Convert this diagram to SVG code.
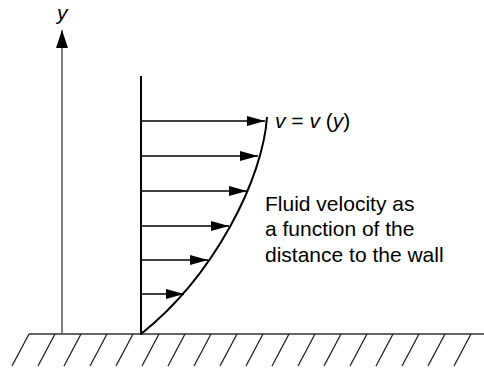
<svg xmlns="http://www.w3.org/2000/svg" width="484" height="368" viewBox="0 0 484 368">
<defs>
<marker id="ah" markerUnits="userSpaceOnUse" markerWidth="18" markerHeight="10" refX="18" refY="5" orient="auto">
<path d="M0,0 L18,5 L0,10 z" fill="#000"/>
</marker>
<marker id="ay" markerUnits="userSpaceOnUse" markerWidth="18" markerHeight="12" refX="18" refY="6" orient="auto">
<path d="M0,0 L18,6 L0,12 z" fill="#000"/>
</marker>
</defs>
<style>
.t{font-family:"Liberation Sans",Arial,sans-serif;font-size:21px;fill:#000}
.i{font-style:italic}
.vel{stroke:#000;stroke-width:1.5;fill:none}
.hatch{stroke:#222;stroke-width:1.3}
</style>
<rect width="484" height="368" fill="#fff"/>
<g id="ground">
<line x1="29" y1="334" x2="484" y2="334" stroke="#333" stroke-width="1.5"/>
<path class="hatch" d="M29,334 l-17,32 M55,334 l-17,32 M81,334 l-17,32 M107,334 l-17,32 M133,334 l-17,32 M159,334 l-17,32 M185,334 l-17,32 M211,334 l-17,32 M237,334 l-17,32 M263,334 l-17,32 M289,334 l-17,32 M315,334 l-17,32 M341,334 l-17,32 M367,334 l-17,32 M393,334 l-17,32 M419,334 l-17,32 M445,334 l-17,32 M471,334 l-17,32"/>
</g>
<g id="y-axis">
<line x1="62" y1="334" x2="62" y2="30" stroke="#555" stroke-width="1.5" marker-end="url(#ay)"/>
<text class="t i" x="57" y="20">y</text>
</g>
<g id="wall">
<line x1="141" y1="76" x2="141" y2="335" stroke="#000" stroke-width="2"/>
</g>
<g id="profile">
<path d="M141,334 C215,275 263,178 267,117" stroke="#000" stroke-width="2" fill="none"/>
</g>
<g id="connectors">
<line class="vel" x1="141" y1="121" x2="265" y2="121" marker-end="url(#ah)"/>
<line class="vel" x1="141" y1="156" x2="258" y2="156" marker-end="url(#ah)"/>
<line class="vel" x1="141" y1="191" x2="247" y2="191" marker-end="url(#ah)"/>
<line class="vel" x1="141" y1="226" x2="229" y2="226" marker-end="url(#ah)"/>
<line class="vel" x1="141" y1="260" x2="208" y2="260" marker-end="url(#ah)"/>
<line class="vel" x1="141" y1="294" x2="184" y2="294" marker-end="url(#ah)"/>
</g>
<g id="label-v">
<text class="t" x="275" y="128"><tspan class="i">v</tspan> = <tspan class="i">v</tspan> (<tspan class="i">y</tspan>)</text>
</g>
<g id="label-desc">
<text class="t" x="265" y="211">Fluid velocity as</text>
<text class="t" x="265" y="236">a function of the</text>
<text class="t" x="265" y="262">distance to the wall</text>
</g>
</svg>
